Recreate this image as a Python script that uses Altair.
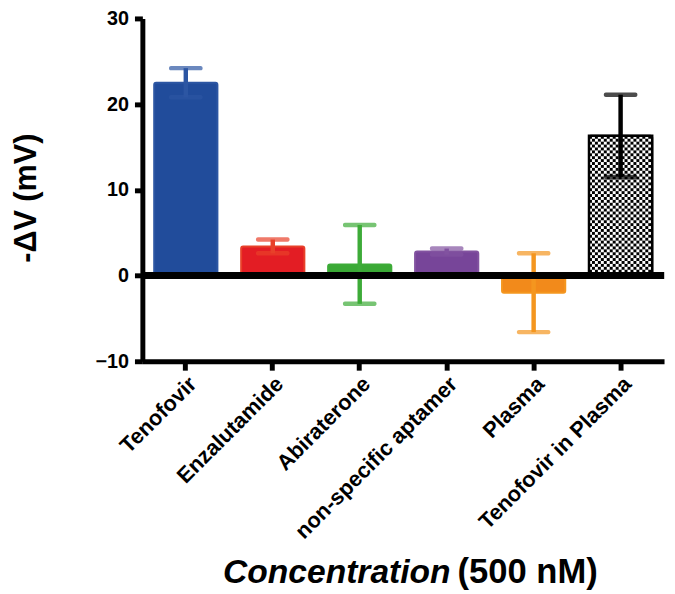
import base64
import altair as alt
import pandas as pd

categories = ["Tenofovir", "Enzalutamide", "Abiraterone",
              "non-specific aptamer", "Plasma", "Tenofovir in Plasma"]
means = [22.5, 3.4, 1.3, 2.8, -2.0, 16.3]
errors = [1.7, 0.8, 4.6, 0.35, 4.6, 4.8]
fill_colors = ["#214c9b", "#e31d24", "#3aa935", "#774599", "#f28a1b", "#ffffff"]
err_colors = ["#2c56a3", "#e8402a", "#3dab38", "#8253a0", "#f4961f", "#000000"]
y_ticks = [-10, 0, 10, 20, 30]
FONT = "Liberation Sans"

df = pd.DataFrame({
    "cat": categories,
    "mean": means,
    "lo": [m - e for m, e in zip(means, errors)],
    "hi": [m + e for m, e in zip(means, errors)],
    "fill": fill_colors,
    "errc": err_colors,
    "zero": [0] * len(categories),
})

svg = ('<svg xmlns="http://www.w3.org/2000/svg" width="64" height="144" viewBox="0 0 64 144" '
       'preserveAspectRatio="none"><defs><pattern id="c" width="6" height="6" '
       'patternUnits="userSpaceOnUse"><rect width="6" height="6" fill="#fff"/>'
       '<rect width="3" height="3" fill="#000"/><rect x="3" y="3" width="3" height="3" fill="#000"/>'
       '</pattern></defs><rect width="64" height="144" fill="url(#c)"/></svg>')
checker_url = "data:image/svg+xml;base64," + base64.b64encode(svg.encode()).decode()
df["url"] = [checker_url if c == "Tenofovir in Plasma" else "" for c in categories]

xscale = alt.Scale(domain=categories, paddingInner=0.273, paddingOuter=0.136)
yscale = alt.Scale(domain=[-10, 30], nice=False, zero=False)

x_enc = alt.X("cat:N", scale=xscale, sort=categories,
              axis=alt.Axis(title=None, labelAngle=-45, labelFontSize=22, labelLimit=0,
                            labelFontWeight="bold", labelFont=FONT, labelColor="black",
                            domainWidth=5, domainColor="black", tickWidth=5,
                            tickSize=9, tickColor="black", labelPadding=3))
y_enc = alt.Y("mean:Q", scale=yscale,
              axis=alt.Axis(title=None, values=y_ticks, labelFontSize=20,
                            labelFontWeight="bold", labelFont=FONT, labelColor="black",
                            domainWidth=5, domainColor="black", tickWidth=5,
                            tickSize=8, tickColor="black", labelPadding=6, grid=False))

base = alt.Chart(df)

bars = base.mark_bar(strokeWidth=2, cornerRadius=2).encode(
    x=x_enc, y=y_enc, y2="zero:Q",
    fill=alt.Fill("fill:N", scale=None),
    stroke=alt.Stroke("errc:N", scale=None),
)

checker = base.transform_filter(alt.datum.cat == "Tenofovir in Plasma").mark_image(
    aspect=False).encode(x=alt.X("cat:N", scale=xscale), y=alt.Y("mean:Q", scale=yscale),
                         y2="zero:Q", url="url:N")

outline = base.transform_filter(alt.datum.cat == "Tenofovir in Plasma").mark_bar(
    fill=None, stroke="black", strokeWidth=2.5).encode(
    x=alt.X("cat:N", scale=xscale), y=alt.Y("mean:Q", scale=yscale), y2="zero:Q")

err_rule = base.mark_rule(strokeWidth=4.5).encode(
    x=alt.X("cat:N", scale=xscale), y=alt.Y("lo:Q", scale=yscale), y2="hi:Q",
    color=alt.Color("errc:N", scale=None))
cap_hi = base.mark_tick(size=34, thickness=4.5, cornerRadius=2, orient="horizontal").encode(
    x=alt.X("cat:N", scale=xscale), y=alt.Y("hi:Q", scale=yscale),
    color=alt.Color("errc:N", scale=None))
cap_lo = base.mark_tick(size=34, thickness=4.5, cornerRadius=2, orient="horizontal").encode(
    x=alt.X("cat:N", scale=xscale), y=alt.Y("lo:Q", scale=yscale),
    color=alt.Color("errc:N", scale=None))

zero_line = base.mark_rule(strokeWidth=7, color="black").encode(y=alt.datum(0))

one = alt.Data(values=[{"a": 1}])
xt1 = alt.Chart(one).mark_text(font=FONT, fontSize=34, fontWeight="bold", fontStyle="italic",
                               align="right", baseline="alphabetic", color="black").encode(
    x=alt.value(312), y=alt.value(571), text=alt.value("Concentration"))
xt2 = alt.Chart(one).mark_text(font=FONT, fontSize=35, fontWeight="bold",
                               align="left", baseline="alphabetic", color="black").encode(
    x=alt.value(319), y=alt.value(571), text=alt.value("(500 nM)"))
yt = alt.Chart(one).mark_text(font=FONT, fontSize=31, fontWeight="bold",
                              align="center", baseline="alphabetic", angle=270, color="black").encode(
    x=alt.value(-108), y=alt.value(182), text=alt.value("-ΔV (mV)"))

chart = alt.layer(bars, checker, outline, err_rule, cap_hi, cap_lo, zero_line,
                  xt1, xt2, yt).properties(
    width=528, height=347,
    padding={"left": 136, "top": 7, "right": 3, "bottom": 232},
    autosize="none",
).configure_view(stroke=None)

chart.save("out.html", embed_options={"renderer": "svg", "actions": False})
